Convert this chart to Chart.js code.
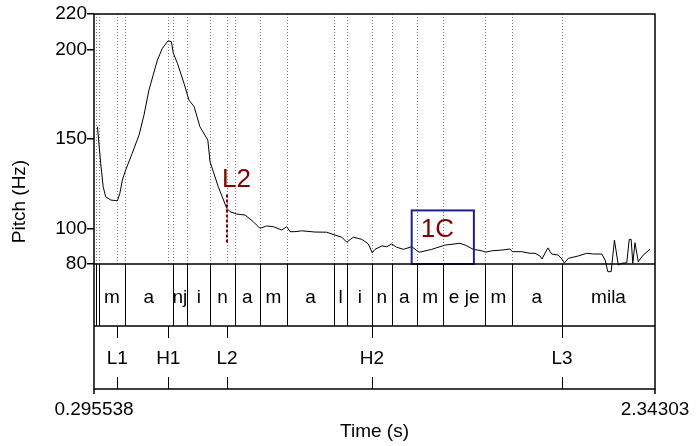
<!DOCTYPE html>
<html>
<head>
<meta charset="utf-8">
<title>Pitch track with tiers</title>
<script src="https://cdn.jsdelivr.net/npm/chart.js@4.4.1/dist/chart.umd.min.js"></script>
<style>
  html, body { margin: 0; padding: 0; background: #fff; }
  canvas { display: block; }
</style>
</head>
<body>
<canvas id="pitchChart" width="697" height="446"></canvas>
<script>
// ---------------------------------------------------------------------------
// Data
// ---------------------------------------------------------------------------

const T_MIN = 0.295538;
const T_MAX = 2.34303;

const pitchTimes = [
  0.308, 0.320, 0.329, 0.338, 0.357, 0.381, 0.390, 0.399, 0.411, 0.435,
  0.460, 0.478, 0.496, 0.527, 0.545, 0.566, 0.578, 0.585, 0.600, 0.624,
  0.642, 0.661, 0.682, 0.711, 0.719, 0.749, 0.780, 0.792, 0.816, 0.847,
  0.877, 0.901, 0.926, 0.950, 0.981, 0.999, 1.011, 1.029, 1.054, 1.102,
  1.145, 1.175, 1.200, 1.218, 1.242, 1.273, 1.297, 1.311, 1.321, 1.346,
  1.364, 1.382, 1.400, 1.425, 1.455, 1.482, 1.492, 1.528, 1.577, 1.631,
  1.650, 1.680, 1.711, 1.725, 1.747, 1.784, 1.814, 1.822, 1.857, 1.887,
  1.905, 1.923, 1.931, 1.942, 1.952, 1.966, 1.990, 2.003, 2.012, 2.027,
  2.063, 2.094, 2.118, 2.149, 2.161, 2.171, 2.183, 2.195, 2.209, 2.222,
  2.240, 2.249, 2.256, 2.262, 2.270, 2.282, 2.300, 2.325
];

const pitchHz = [
  156.9, 136.4, 123.3, 117.7, 115.8, 115.4, 119.6, 127.0, 132.6, 142.0,
  152.2, 163.4, 177.4, 194.2, 200.8, 205.0, 204.5, 198.0, 192.4, 181.2,
  171.8, 168.1, 156.9, 149.4, 137.3, 123.3, 111.2, 109.3, 108.0, 107.4,
  103.7, 100.0, 101.3, 100.9, 99.0, 100.9, 98.1, 98.1, 98.6, 97.9,
  97.8, 96.2, 95.0, 92.2, 95.0, 93.8, 91.2, 86.3, 88.2, 90.1,
  89.7, 91.2, 89.4, 88.2, 89.7, 86.6, 86.9, 88.2, 90.6, 91.6,
  90.6, 88.2, 87.4, 86.6, 87.4, 87.8, 88.4, 86.9, 86.9, 86.0,
  86.0, 84.5, 82.8, 86.2, 89.0, 85.6, 85.0, 82.8, 80.6, 83.2,
  84.5, 86.0, 85.6, 85.6, 82.2, 75.7, 75.7, 93.4, 79.4, 80.4,
  80.7, 93.8, 93.8, 80.4, 91.9, 81.3, 85.0, 88.2
];

const yTicks = [80, 100, 150, 200, 220];

// segment tier: boundaries (s) and the labels of the intervals between them
const segBounds = [
  0.3028, 0.3127, 0.4087, 0.5821, 0.6361, 0.7200, 0.8091, 0.9003, 1.0011,
  1.1704, 1.2207, 1.3102, 1.3821, 1.4744, 1.5704, 1.7226, 1.8200, 2.0036
];
const segLabels = [
  '', '', 'm', 'a', 'nj', 'i', 'n', 'a', 'm', 'a',
  'l', 'i', 'n', 'a', 'm', 'e je', 'm', 'a', 'mila'
];

// tone tier: points (s) and labels
const tonePoints = [0.3806, 0.5667, 0.7810, 1.3102, 2.0036];
const toneLabels = ['L1', 'H1', 'L2', 'H2', 'L3'];

// highlighted L2 marker (Hz range of the dashed stroke, Hz of label baseline)
const markHz = [92, 120];
const markLabelHz = 123.3;

// "1C" box: time range and Hz range
const boxTimes = [1.455, 1.682];
const boxHz = [80, 110];
const boxLabelAt = [1.488, 95];

// ---------------------------------------------------------------------------
// Styling
// ---------------------------------------------------------------------------

const FONT = '"Liberation Sans", Arial, Helvetica, sans-serif';
const TIER1_H = 62;
const TIER2_H = 63;
const MAROON = '#800000';
const NAVY = '#202090';

// ---------------------------------------------------------------------------
// Plugin: dotted guides, annotations, text grid and frame
// ---------------------------------------------------------------------------

const tierPlugin = {
  id: 'praatTiers',

  beforeDatasetsDraw(chart) {
    const { ctx, chartArea: a, scales: { x } } = chart;
    ctx.save();
    ctx.strokeStyle = '#7a7a7a';
    ctx.lineWidth = 1;
    ctx.setLineDash([1, 2]);
    [...segBounds, ...tonePoints].forEach((t) => {
      const px = Math.round(x.getPixelForValue(t)) + 0.5;
      ctx.beginPath();
      ctx.moveTo(px, a.top);
      ctx.lineTo(px, a.bottom);
      ctx.stroke();
    });
    ctx.restore();
  },

  afterDatasetsDraw(chart) {
    const { ctx, scales: { x, y } } = chart;
    ctx.save();

    // dashed L2 marker and its label
    const mx = x.getPixelForValue(tonePoints[2]);
    ctx.strokeStyle = MAROON;
    ctx.lineWidth = 2;
    ctx.setLineDash([3, 2]);
    ctx.beginPath();
    ctx.moveTo(mx, y.getPixelForValue(markHz[0]));
    ctx.lineTo(mx, y.getPixelForValue(markHz[1]));
    ctx.stroke();
    ctx.setLineDash([]);

    ctx.fillStyle = MAROON;
    ctx.font = '26px ' + FONT;
    ctx.textAlign = 'left';
    ctx.textBaseline = 'alphabetic';
    ctx.fillText(toneLabels[2], mx - 5, y.getPixelForValue(markLabelHz));

    // 1C box
    const bx0 = x.getPixelForValue(boxTimes[0]);
    const bx1 = x.getPixelForValue(boxTimes[1]);
    const by0 = y.getPixelForValue(boxHz[1]);
    const by1 = y.getPixelForValue(boxHz[0]);
    ctx.strokeStyle = NAVY;
    ctx.lineWidth = 2;
    ctx.strokeRect(bx0, by0, bx1 - bx0, by1 - by0);
    ctx.fillText('1C', x.getPixelForValue(boxLabelAt[0]), y.getPixelForValue(boxLabelAt[1]));

    ctx.restore();
  },

  afterDraw(chart) {
    const { ctx, chartArea: a, scales: { x } } = chart;
    const L = a.left, R = a.right, T = a.top, B = a.bottom;
    const B1 = B + TIER1_H;
    const B2 = B1 + TIER2_H;

    ctx.save();
    ctx.strokeStyle = '#000';
    ctx.fillStyle = '#000';
    ctx.setLineDash([]);

    // segment boundaries
    ctx.lineWidth = 1;
    segBounds.forEach((t) => {
      const px = Math.round(x.getPixelForValue(t)) + 0.5;
      ctx.beginPath();
      ctx.moveTo(px, B);
      ctx.lineTo(px, B1);
      ctx.stroke();
    });

    // tone point ticks
    tonePoints.forEach((t) => {
      const px = Math.round(x.getPixelForValue(t)) + 0.5;
      ctx.beginPath();
      ctx.moveTo(px, B1);
      ctx.lineTo(px, B1 + 12);
      ctx.moveTo(px, B2 - 12);
      ctx.lineTo(px, B2);
      ctx.stroke();
    });

    // frame and tier separators
    ctx.lineWidth = 1.5;
    ctx.strokeRect(L, T, R - L, B2 - T);
    ctx.beginPath();
    ctx.moveTo(L, B);
    ctx.lineTo(R, B);
    ctx.moveTo(L, B1);
    ctx.lineTo(R, B1);
    // time ticks under the frame
    ctx.moveTo(L, B2);
    ctx.lineTo(L, B2 + 5);
    ctx.moveTo(R, B2);
    ctx.lineTo(R, B2 + 5);
    ctx.stroke();

    ctx.font = '19px ' + FONT;
    ctx.textAlign = 'center';
    ctx.textBaseline = 'alphabetic';

    // segment labels
    const edges = [T_MIN, ...segBounds, T_MAX];
    segLabels.forEach((lab, i) => {
      if (!lab) return;
      const cx = (x.getPixelForValue(edges[i]) + x.getPixelForValue(edges[i + 1])) / 2;
      ctx.fillText(lab, cx, B + 39);
    });

    // tone labels
    tonePoints.forEach((t, i) => {
      ctx.fillText(toneLabels[i], x.getPixelForValue(t), B1 + 38);
    });

    // time range and axis titles
    ctx.fillText(String(T_MIN), L, B2 + 26);
    ctx.fillText(String(T_MAX), R, B2 + 26);
    ctx.fillText('Time (s)', (L + R) / 2, B2 + 48);

    ctx.translate(25, (T + B2) / 2);
    ctx.rotate(-Math.PI / 2);
    ctx.fillText('Pitch (Hz)', 0, 0);

    ctx.restore();
  }
};

// ---------------------------------------------------------------------------
// Chart
// ---------------------------------------------------------------------------

const initPitchChart = () => {
  const canvas = document.getElementById('pitchChart');
  const points = pitchTimes.map((t, i) => ({ x: t, y: pitchHz[i] }));

  return new Chart(canvas.getContext('2d'), {
    type: 'line',
    data: {
      datasets: [{
        data: points,
        borderColor: '#000',
        borderWidth: 1,
        pointRadius: 0,
        tension: 0,
        fill: false,
        clip: false
      }]
    },
    options: {
      responsive: false,
      animation: false,
      devicePixelRatio: 1,
      layout: { padding: { left: 0, top: 14, right: 42, bottom: 182 } },
      plugins: {
        legend: { display: false },
        tooltip: { enabled: false }
      },
      scales: {
        x: { type: 'linear', min: T_MIN, max: T_MAX, display: false },
        y: {
          type: 'linear',
          min: 80,
          max: 220,
          afterBuildTicks: (scale) => { scale.ticks = yTicks.map((v) => ({ value: v })); },
          afterFit: (scale) => { scale.width = 94; },
          border: { display: false },
          grid: {
            drawOnChartArea: false,
            drawTicks: true,
            tickLength: 7,
            color: '#000',
            lineWidth: 1.5
          },
          ticks: {
            padding: 0,
            color: '#000',
            autoSkip: false,
            font: { family: FONT, size: 19 }
          }
        }
      }
    },
    plugins: [tierPlugin]
  });
};

initPitchChart();
</script>
</body>
</html>
